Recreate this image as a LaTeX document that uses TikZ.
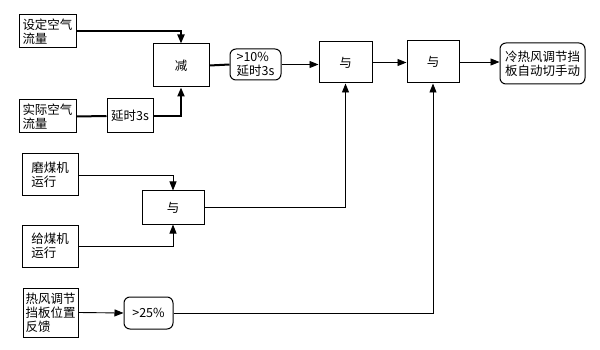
\documentclass[tikz,border=0pt]{standalone}
\usepackage{fontspec}
\setmainfont{Noto Sans CJK SC}
\usetikzlibrary{arrows.meta}
\tikzset{
  box/.style={draw, line width=1pt, rectangle, inner sep=1pt, align=left, font=\fontsize{12.5pt}{14pt}\selectfont},
  rbox/.style={box, rounded corners=6pt},
  link/.style={line width=0.9pt},
  thick link/.style={line width=2pt},
  arr/.style={-{Triangle[length=9pt,width=7pt]}}
}
\begin{document}
\begin{tikzpicture}[x=1pt,y=-1pt]
\useasboundingbox[fill=white] (0,0) rectangle (600,350);
\node[box, minimum width=57pt, minimum height=33pt] (set) at (47.5,31.5) {设定空气\\流量};
\node[box, minimum width=57pt, minimum height=33pt] (act) at (47.5,116.5) {实际空气\\流量};
\node[box, minimum width=46pt, minimum height=34pt] (delay) at (130,116) {延时3s};
\node[box, minimum width=56pt, minimum height=43pt] (sub) at (181,65.5) {减};
\node[rbox, minimum width=51pt, minimum height=31pt] (gt10) at (255.5,64.5) {>10\%\\延时3s};
\node[box, minimum width=53pt, minimum height=41pt] (and1) at (345.5,62.5) {与};
\node[box, minimum width=52pt, minimum height=42pt] (and2) at (433,62) {与};
\node[rbox, minimum width=85pt, minimum height=41pt, inner sep=0pt] (out) at (542.5,63.5) {冷热风调节挡\\板自动切手动};
\node[box, minimum width=56pt, minimum height=42pt] (mill) at (50,175) {磨煤机\\运行};
\node[box, minimum width=56pt, minimum height=42pt] (feed) at (50,246) {给煤机\\运行};
\node[box, minimum width=62pt, minimum height=33pt] (and3) at (173,207.5) {与};
\node[box, minimum width=55pt, minimum height=49pt] (fb) at (50.5,312.5) {热风调节\\挡板位置\\反馈};
\node[rbox, minimum width=49pt, minimum height=32pt] (gt25) at (148.5,313) {>25\%};

\draw[thick link, arr] (set.east) -| (sub.north);
\draw[thick link] (act.east) -- (delay.west);
\draw[thick link, arr] (delay.east) -| (sub.south);
\draw[thick link] (sub.east) -- (gt10.west);
\draw[link, arr] (gt10.east) -- (gt10.east -| and1.west);
\draw[link, arr] (and1.east) -- (and1.east -| and2.west);
\draw[link, arr] (and2.east) -- (and2.east -| out.west);
\draw[link, arr] (mill.east) -| (and3.north);
\draw[link, arr] (feed.east) -| (and3.south);
\draw[link, arr] (and3.east) -| (and1.south);
\draw[link, arr] (fb.east) -- (gt25.west);
\draw[link, arr] (gt25.east) -| (and2.south);
\end{tikzpicture}
\end{document}
